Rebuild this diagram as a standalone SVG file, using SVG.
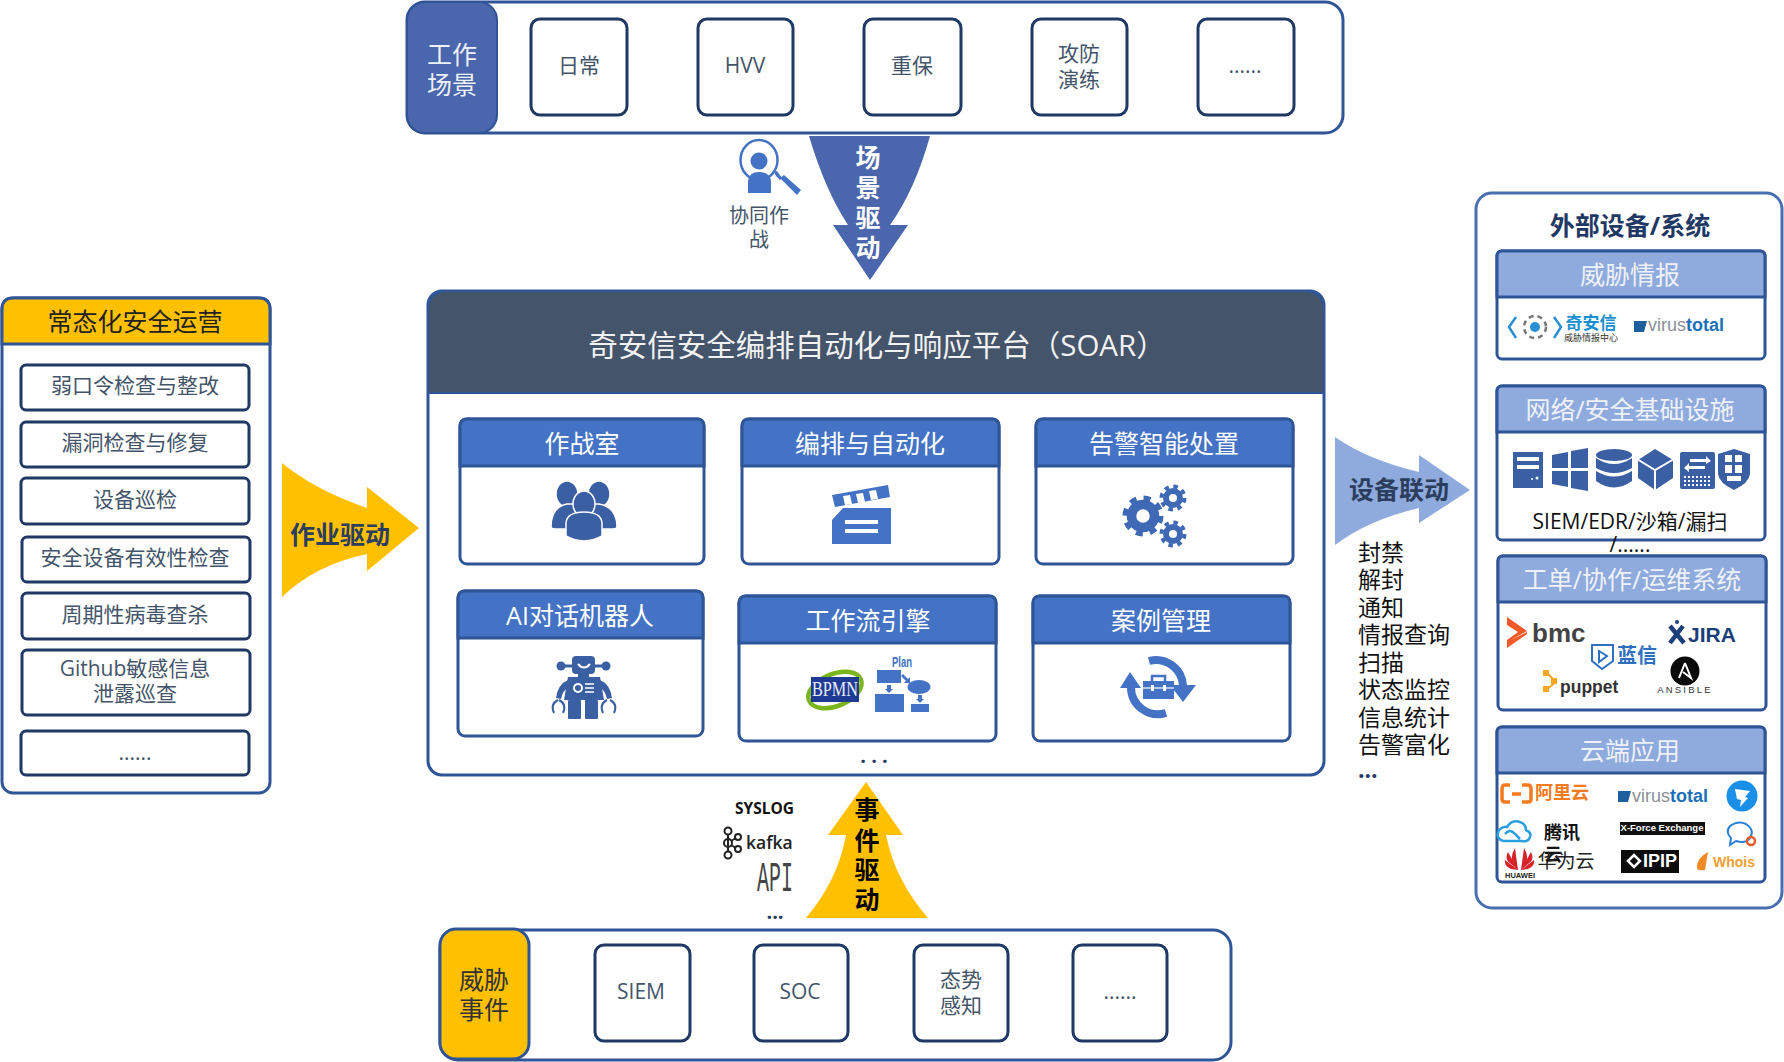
<svg xmlns="http://www.w3.org/2000/svg" width="1784" height="1062" viewBox="0 0 1784 1062">
<style>
text{font-family:"Open Sans","Noto Sans CJK SC",sans-serif;dominant-baseline:central;text-anchor:middle}
text:not(.logo){transform:translateY(1px)}
.panel{fill:#fff;stroke:#2f5597;stroke-width:3}
.cell{fill:#fff;stroke:#1f3864;stroke-width:3}
.cardh{fill:#4472c4;stroke:#2f5597;stroke-width:3}
.exth{fill:#8faadc;stroke:#2f5597;stroke-width:3}
.ic{fill:#4472c4}
.ic2{fill:#3a5fa3}
.w{fill:#fff}
.lbl{fill:#fff;font-size:25px}
.gl{fill:#eef1f8;font-size:25px}
.c{fill:#44546a;font-size:21px}
.dr{font-weight:700;font-size:25px}
.list{fill:#111;font-size:23px;text-anchor:start}
.logo{font-family:"Liberation Sans",sans-serif;dominant-baseline:auto;text-anchor:start;font-weight:700}
.line{fill:none;stroke:#4472c4;stroke-width:8}
</style>

<g id="connectors">
<path id="arrow-scene" d="M809 136H930Q915 190 890 225H908L870 280L833 225H848Q825 190 809 136Z" fill="#4a66ac"/>
<path id="arrow-ops" d="M282 463Q315 490 367 508V487L419 528L367 571V554Q315 565 282 597Z" fill="#ffc000"/>
<path id="arrow-device" d="M1335 437Q1368 460 1419 472V455L1470 490L1419 523V508Q1368 520 1335 545Z" fill="#8faadc"/>
<path id="arrow-event" d="M866 782L903 835H886Q895 880 928 918H806Q838 880 846 835H828Z" fill="#ffc000"/>
<text x="868" y="156" class="dr" fill="#fff">场</text><text x="868" y="186" class="dr" fill="#fff">景</text><text x="868" y="216" class="dr" fill="#fff">驱</text><text x="868" y="246" class="dr" fill="#fff">动</text>
<text x="340" y="533" class="dr" fill="#2c3e5e">作业驱动</text>
<text x="1399" y="488" class="dr" fill="#2c3e5e">设备联动</text>
<text x="867" y="808" class="dr" fill="#000">事</text><text x="867" y="839" class="dr" fill="#000">件</text><text x="867" y="868" class="dr" fill="#000">驱</text><text x="867" y="898" class="dr" fill="#000">动</text>
</g>

<g id="scenes">
<rect class="panel" x="407" y="2" width="936" height="131" rx="18"/>
<rect x="407" y="2" width="90" height="131" rx="18" fill="#4a66ac" stroke="#2f5597" stroke-width="2"/>
<text class="gl" x="452" y="53">工作</text><text class="gl" x="452" y="83">场景</text>
<g id="scene-daily"><rect class="cell" x="531" y="19" width="96" height="96" rx="9"/><text class="c" x="579" y="64">日常</text></g>
<g id="scene-hvv"><rect class="cell" x="698" y="19" width="95" height="96" rx="9"/><text class="c" x="745" y="64">HVV</text></g>
<g id="scene-protect"><rect class="cell" x="864" y="19" width="97" height="96" rx="9"/><text class="c" x="912" y="64">重保</text></g>
<g id="scene-drill"><rect class="cell" x="1032" y="19" width="95" height="96" rx="9"/><text class="c" x="1079" y="52">攻防</text><text class="c" x="1079" y="78">演练</text></g>
<g id="scene-more"><rect class="cell" x="1198" y="19" width="96" height="96" rx="9"/><text class="c" x="1245" y="64">......</text></g>
</g>

<g id="collab">
<ellipse cx="759" cy="160" rx="18.500" ry="20" fill="#fff" stroke="#4472c4" stroke-width="2.500"/>
<circle cx="759" cy="161" r="8.500" class="ic"/>
<path class="ic" d="M748 193V181Q749 172 759 172Q770 172 771 181V193Z"/>
<path class="ic" d="M774 172L777 171L782 178L780 180L776 176Z"/>
<path class="ic" d="M780 178L784 175L801 190L797 195Z"/>
<text x="759" y="214" fill="#44546a" font-size="20">协同作</text><text x="759" y="238" fill="#44546a" font-size="20">战</text>
</g>

<g id="ops">
<rect class="panel" x="2" y="298" width="268" height="495" rx="11"/>
<path d="M2 344V309Q2 298 13 298H259Q270 298 270 309V344Z" fill="#ffc000" stroke="#2f5597" stroke-width="3"/>
<text x="135" y="320" fill="#222" font-size="25">常态化安全运营</text>
<g id="op1"><rect class="cell" x="21" y="365" width="228" height="45" rx="5"/><text class="c" x="135" y="384">弱口令检查与整改</text></g>
<g id="op2"><rect class="cell" x="21" y="422" width="228" height="45" rx="5"/><text class="c" x="135" y="441">漏洞检查与修复</text></g>
<g id="op3"><rect class="cell" x="21" y="478" width="228" height="46" rx="5"/><text class="c" x="135" y="498">设备巡检</text></g>
<g id="op4"><rect class="cell" x="22" y="537" width="228" height="45" rx="5"/><text class="c" x="135" y="556">安全设备有效性检查</text></g>
<g id="op5"><rect class="cell" x="22" y="593" width="228" height="46" rx="5"/><text class="c" x="135" y="613">周期性病毒查杀</text></g>
<g id="op6"><rect class="cell" x="22" y="650" width="228" height="65" rx="5"/><text class="c" x="135" y="667">Github敏感信息</text><text class="c" x="135" y="692">泄露巡查</text></g>
<g id="op7"><rect class="cell" x="21" y="731" width="228" height="44" rx="5"/><text class="c" x="135" y="751">......</text></g>
</g>

<g id="soar">
<rect class="panel" x="428" y="291" width="896" height="484" rx="14"/>
<path d="M428 393V311Q428 291 448 291H1304Q1324 291 1324 311V393Z" fill="#44546a" stroke="#2f5597" stroke-width="2"/>
<text x="877" y="343" fill="#f2f2f2" font-size="29.500">奇安信安全编排自动化与响应平台（SOAR）</text>

<g id="card-warroom">
<rect class="panel" x="460" y="419" width="244" height="145" rx="7"/><path class="cardh" d="M460 466V426Q460 419 467 419H697Q704 419 704 426V466Z"/><text class="lbl" x="582" y="442">作战室</text>
<g class="ic2" stroke="#fff" stroke-width="1.500"><ellipse cx="567" cy="494" rx="11" ry="13"/><ellipse cx="599" cy="494" rx="11" ry="13"/><path d="M551 527Q551 507 567 504H599Q617 507 617 527Q617 529 610 529H558Q551 529 551 527Z"/><ellipse cx="584" cy="504" rx="11" ry="13"/><path d="M566 536V523Q567 512 584 512Q601 512 602 523V536Q584 546 566 536Z"/></g>
</g>

<g id="card-orchestration">
<rect class="panel" x="742" y="419" width="257" height="145" rx="7"/><path class="cardh" d="M742 466V426Q742 419 749 419H992Q999 419 999 426V466Z"/><text class="lbl" x="870" y="442">编排与自动化</text>
<path class="ic" d="M832 495L888 485L890 497L835 507Z"/>
<path class="w" d="M843 496L850 495L852 504L845 505ZM856 494L863 493L865 502L858 503ZM869 491L876 490L878 499L871 500Z"/>
<path class="ic" d="M843 508H891V544H832V520Z"/>
<rect class="w" x="845" y="520" width="33" height="4"/><rect class="w" x="845" y="529" width="33" height="4"/>
</g>

<g id="card-alert">
<rect class="panel" x="1036" y="419" width="257" height="145" rx="7"/><path class="cardh" d="M1036 466V426Q1036 419 1043 419H1286Q1293 419 1293 426V466Z"/><text class="lbl" x="1164" y="442">告警智能处置</text>
<g fill="none" stroke="#3f68b5"><circle cx="1143" cy="516" r="11.500" stroke-width="9.500"/><circle cx="1143" cy="516" r="18" stroke-width="5" stroke-dasharray="7 7.140"/><circle cx="1173" cy="498" r="7" stroke-width="6"/><circle cx="1173" cy="498" r="11.500" stroke-width="4" stroke-dasharray="4.500 4.530"/><circle cx="1173" cy="534" r="7" stroke-width="6"/><circle cx="1173" cy="534" r="11.500" stroke-width="4" stroke-dasharray="4.500 4.530"/></g>
</g>

<g id="card-chatbot">
<rect class="panel" x="458" y="591" width="245" height="145" rx="7"/><path class="cardh" d="M458 638V598Q458 591 465 591H696Q703 591 703 598V638Z"/><text class="lbl" x="580" y="614">AI对话机器人</text>
<g class="ic2"><circle cx="561" cy="666" r="4.500"/><circle cx="606" cy="666" r="4.500"/><rect x="561" y="664.500" width="45" height="3"/><rect x="572" y="656" width="23" height="18" rx="4"/><rect x="578" y="674" width="11" height="4"/><path d="M568 677H600L604 700H564Z"/><rect x="568" y="700" width="13" height="19" rx="1"/><rect x="585" y="700" width="13" height="19" rx="1"/><path d="M568 680Q558 684 556 698L561 699Q563 690 568 688ZM600 680Q610 684 612 698L607 699Q605 690 600 688Z"/></g>
<g fill="none" stroke="#3a5fa3" stroke-width="2"><path d="M558 700Q550 704 554 713M559 700Q567 704 563 713M607 700Q599 704 603 713M610 700Q618 704 614 713"/></g>
<path d="M578 664Q584 671 590 664" fill="none" stroke="#fff" stroke-width="2"/>
<circle cx="578" cy="688" r="4" fill="none" stroke="#fff" stroke-width="2"/><path d="M585 684H594M585 688H594M585 692H594" stroke="#fff" stroke-width="1.500"/>
</g>

<g id="card-workflow">
<rect class="panel" x="739" y="596" width="257" height="145" rx="7"/><path class="cardh" d="M739 643V603Q739 596 746 596H989Q996 596 996 603V643Z"/><text class="lbl" x="868" y="619">工作流引擎</text>
<ellipse cx="835" cy="690" rx="28" ry="16" transform="rotate(-22 835 690)" fill="none" stroke="#7ab51d" stroke-width="4.500"/>
<rect x="811" y="677" width="48" height="25" fill="#1f3a93"/>
<text x="835" y="688" fill="#e8ecf8" font-size="20" style="font-family:'Liberation Serif',serif" textLength="46" lengthAdjust="spacingAndGlyphs">BPMN</text>
<text x="902" y="661" fill="#4472c4" font-size="14" font-weight="700" style="font-family:'Liberation Sans',sans-serif" textLength="20" lengthAdjust="spacingAndGlyphs">Plan</text>
<g class="ic"><rect x="877" y="670" width="24" height="13"/><ellipse cx="919" cy="687" rx="11.500" ry="7"/><rect x="875" y="694" width="29" height="18"/><rect x="911" y="704" width="18" height="8"/><path d="M887 685H891V689H893L889 693L885 689H887ZM918 695H922V699H924L920 703L916 699H918ZM903 674L908 679L910 677V683H904L906 681L901 676Z"/></g>
</g>

<g id="card-case">
<rect class="panel" x="1033" y="596" width="257" height="145" rx="7"/><path class="cardh" d="M1033 643V603Q1033 596 1040 596H1283Q1290 596 1290 603V643Z"/><text class="lbl" x="1161" y="619">案例管理</text>
<path class="line" d="M1149 661A27 27 0 0 1 1183 686"/><path class="line" d="M1131 687A27 27 0 0 0 1166 713"/>
<path class="ic" d="M1120 688L1130 672L1141 688ZM1170 685H1196L1183 702Z"/>
<rect class="ic" x="1143" y="681" width="31" height="18"/><path d="M1152 681V676H1165V681" fill="none" stroke="#4472c4" stroke-width="2.500"/>
<path d="M1143 688H1174" stroke="#fff" stroke-width="1.200"/><rect class="w" x="1151" y="685" width="3" height="6"/><rect class="w" x="1163" y="685" width="3" height="6"/>
</g>
<text id="soar-more" x="874" y="754" fill="#1f3864" font-size="20" font-weight="700">. . .</text>
</g>

<g id="inputs">
<text x="794" y="807" fill="#111" font-size="15.500" font-weight="700" style="text-anchor:end">SYSLOG</text>
<g fill="none" stroke="#222" stroke-width="2"><circle cx="728" cy="831" r="3.500"/><circle cx="728" cy="843" r="4"/><circle cx="728" cy="855" r="3.500"/><circle cx="738" cy="837" r="3"/><circle cx="738" cy="849" r="3"/><path d="M728 834V851M731 841L736 838M731 845L736 848"/></g>
<text x="746" y="841" fill="#222" font-size="17.500" font-weight="600" style="text-anchor:start">kafka</text>
<text x="775" y="879" fill="#444" font-size="42" style="font-family:'Liberation Mono',monospace" textLength="36" lengthAdjust="spacingAndGlyphs">API</text>
<text x="775" y="910" fill="#1f3864" font-size="20" font-weight="700">...</text>
</g>

<g id="threats">
<rect class="panel" x="440" y="930" width="791" height="130" rx="18"/>
<rect x="440" y="929" width="89" height="130" rx="16" fill="#ffc000" stroke="#2f5597" stroke-width="3"/>
<text x="484" y="978" fill="#333" font-size="25">威胁</text><text x="484" y="1008" fill="#333" font-size="25">事件</text>
<g id="threat-siem"><rect class="cell" x="595" y="945" width="95" height="96" rx="9"/><text class="c" x="641" y="990">SIEM</text></g>
<g id="threat-soc"><rect class="cell" x="754" y="945" width="94" height="96" rx="9"/><text class="c" x="800" y="990">SOC</text></g>
<g id="threat-sa"><rect class="cell" x="914" y="945" width="94" height="96" rx="9"/><text class="c" x="961" y="978">态势</text><text class="c" x="961" y="1004">感知</text></g>
<g id="threat-more"><rect class="cell" x="1073" y="945" width="94" height="96" rx="9"/><text class="c" x="1120" y="990">......</text></g>
</g>

<g id="actions">
<text class="list" x="1358" y="551">封禁</text><text class="list" x="1358" y="578">解封</text><text class="list" x="1358" y="606">通知</text><text class="list" x="1358" y="633">情报查询</text><text class="list" x="1358" y="661">扫描</text><text class="list" x="1358" y="688">状态监控</text><text class="list" x="1358" y="716">信息统计</text><text class="list" x="1358" y="743">告警富化</text><text class="list" x="1358" y="768" font-weight="700" style="fill:#1f3864">...</text>
</g>

<g id="external">
<rect x="1476" y="193" width="306" height="715" rx="16" fill="#fff" stroke="#4a6fb0" stroke-width="3"/>
<text x="1630" y="224" fill="#1f3864" font-size="25" font-weight="700">外部设备/系统</text>

<g id="ext-intel">
<rect class="panel" x="1497" y="251" width="268" height="108" rx="5"/><path class="exth" d="M1497 297V256Q1497 251 1502 251H1760Q1765 251 1765 256V297Z"/><text class="gl" x="1630" y="273">威胁情报</text>
<path d="M1516 317L1509 327L1516 338M1554 317L1561 327L1554 338" fill="none" stroke="#2a8fd6" stroke-width="2.500"/>
<circle cx="1535" cy="327" r="11" fill="none" stroke="#777" stroke-width="2.500" stroke-dasharray="5 4"/><circle cx="1535" cy="327" r="5" fill="#2a8fd6"/>
<text x="1591" y="321" fill="#1a8fd0" font-size="17" font-weight="700">奇安信</text>
<text x="1591" y="336" fill="#333" font-size="9">威胁情报中心</text>
<path d="M1634 321H1647L1644 332H1634Z" fill="#1f5f9e"/>
<text class="logo" x="1648" y="331" font-size="18" fill="#8a8f96" style="font-weight:400">virus<tspan fill="#1d6fb8" font-weight="700">total</tspan></text>
</g>

<g id="ext-infra">
<rect class="panel" x="1497" y="386" width="268" height="154" rx="5"/><path class="exth" d="M1497 432V391Q1497 386 1502 386H1760Q1765 386 1765 391V432Z"/><text class="gl" x="1630" y="408">网络/安全基础设施</text>
<g class="ic2">
<rect x="1513" y="452" width="30" height="36"/>
<path d="M1552 455L1568 452V468H1552ZM1571 451L1588 448V468H1571ZM1552 471H1568V487L1552 484ZM1571 471H1588V491L1571 488Z"/>
<ellipse cx="1614" cy="455" rx="18" ry="6"/><path d="M1596 458Q1614 470 1632 458V468Q1614 478 1596 468ZM1596 471Q1614 482 1632 471V481Q1614 494 1596 481Z"/>
<path d="M1655 449L1673 460V478L1655 490L1638 478V460Z"/>
<rect x="1680" y="452" width="35" height="37" rx="2"/>
<path d="M1734 449L1750 454V474Q1749 483 1734 490Q1719 483 1718 474V454Z"/>
</g>
<path d="M1637 459L1655 470L1674 459M1655 470V491" fill="none" stroke="#fff" stroke-width="2"/>
<g class="w"><rect x="1517" y="457" width="22" height="4"/><rect x="1517" y="465" width="22" height="4"/><circle cx="1537" cy="478" r="1.500"/><circle cx="1532" cy="479" r="1"/>
<path d="M1690 459H1706V456L1711 461L1706 464V462H1690ZM1705 466H1689V463L1684 468L1689 472V469H1705Z"/>
<rect x="1725" y="455" width="7" height="7"/><rect x="1735" y="455" width="7" height="7"/><rect x="1725" y="465" width="7" height="8"/><rect x="1735" y="465" width="7" height="8"/><rect x="1727" y="476" width="14" height="5"/></g>
<path d="M1684 477H1712M1684 481H1712M1684 485H1712" stroke="#fff" stroke-width="2" stroke-dasharray="2 2"/>
<text x="1630" y="520" fill="#111" font-size="21">SIEM/EDR/沙箱/漏扫</text>
</g>

<g id="ext-ticket">
<rect class="panel" x="1498" y="556" width="268" height="154" rx="5"/><path class="exth" d="M1498 602V561Q1498 556 1503 556H1761Q1766 556 1766 561V602Z"/><text class="gl" x="1632" y="578">工单/协作/运维系统</text>
<path d="M1507 617L1527 631L1511 640L1527 632V634L1507 648V640L1518 632L1507 625Z" fill="#ef5a28"/>
<text class="logo" x="1532" y="642" font-size="26" fill="#444">bmc</text>
<path d="M1592 645H1613V661L1602 669L1592 661Z" fill="none" stroke="#2f6fc0" stroke-width="2"/><path d="M1599 651L1607 656L1599 662Z" fill="none" stroke="#2f6fc0" stroke-width="2"/>
<text x="1637" y="654" fill="#2f6fc0" font-size="20" font-weight="700">蓝信</text>
<path d="M1670 626L1684 643M1683 626L1670 643" stroke="#1b3f7a" stroke-width="4.500"/>
<circle cx="1677" cy="622" r="2" fill="#1b3f7a"/>
<text class="logo" x="1688" y="642" font-size="21" fill="#1b3f7a">JIRA</text>
<path d="M1546 672L1556 682L1546 690" fill="none" stroke="#f5a623" stroke-width="2"/><rect x="1543" y="670" width="6" height="6" fill="#f5a623"/><rect x="1551" y="678" width="6" height="6" fill="#f5a623"/><rect x="1543" y="686" width="6" height="6" fill="#f5a623"/>
<text class="logo" x="1560" y="693" font-size="17.500" fill="#333">puppet</text>
<circle cx="1685" cy="671" r="14.500" fill="#0a0a0a"/><path d="M1685 663L1691 678L1683 672M1685 663L1679 678" fill="none" stroke="#fff" stroke-width="2"/>
<text x="1685" y="688" fill="#333" font-size="9.500" letter-spacing="2.200" style="font-family:'Liberation Sans',sans-serif">ANSIBLE</text>
</g>

<text id="infra-more" x="1630" y="543" fill="#111" font-size="21">/......</text>

<g id="ext-cloud">
<rect class="panel" x="1497" y="727" width="268" height="155" rx="5"/><path class="exth" d="M1497 773V732Q1497 727 1502 727H1760Q1765 727 1765 732V773Z"/><text class="gl" x="1630" y="749">云端应用</text>
<path d="M1510 785H1505Q1502 785 1502 789V799Q1502 802 1505 802H1510M1522 785H1528Q1531 785 1531 789V799Q1531 802 1528 802H1522M1512 794H1521" fill="none" stroke="#f47a20" stroke-width="3.500"/>
<text x="1562" y="791" fill="#f47a20" font-size="18" font-weight="700">阿里云</text>
<path d="M1618 791H1631L1628 802H1618Z" fill="#1f5f9e"/>
<text class="logo" x="1632" y="802" font-size="18" fill="#8a8f96" style="font-weight:400">virus<tspan fill="#1d6fb8" font-weight="700">total</tspan></text>
<circle cx="1742" cy="796" r="15.500" fill="#1a8fe8"/><path d="M1735 789L1750 791L1745 797L1748 798L1740 807L1741 800L1737 799Z" fill="#fff"/>
<path d="M1503 841Q1495 838 1499 830Q1503 826 1507 827Q1512 819 1520 822Q1526 824 1526 830Q1533 833 1529 839Q1527 842 1522 841H1503M1505 834Q1510 828 1515 834L1520 839" fill="none" stroke="#2a9fe0" stroke-width="2.500"/>
<text x="1562" y="831" fill="#111" font-size="18" font-weight="700">腾讯</text>
<text x="1553" y="853" fill="#111" font-size="18" font-weight="700">云</text>
<text x="1566" y="860" fill="#222" font-size="19">华为云</text>
<rect x="1620" y="822" width="85" height="13" fill="#111"/>
<text x="1662" y="826.500" fill="#fff" font-size="9.500" font-weight="700" style="font-family:'Liberation Sans',sans-serif">X-Force Exchange</text>
<path d="M1730 826Q1738 820 1746 824Q1755 830 1750 838Q1746 844 1736 841L1730 845L1731 838Q1725 832 1730 826Z" fill="none" stroke="#2a7fd6" stroke-width="2"/>
<circle cx="1751" cy="841" r="4" fill="none" stroke="#e85a2c" stroke-width="2.500"/>
<g fill="#d8232a"><path d="M1518 870L1505 860Q1504 866 1511 869ZM1518 870L1508 852Q1504 860 1511 864ZM1518 870L1515 848Q1510 856 1513 862ZM1521 870L1524 848Q1529 856 1526 862ZM1521 870L1531 852Q1535 860 1528 864ZM1521 870L1534 860Q1535 866 1528 869Z"/></g>
<text x="1520" y="874" fill="#222" font-size="7.500" font-weight="700" style="font-family:'Liberation Sans',sans-serif">HUAWEI</text>
<rect x="1621" y="850" width="58" height="23" fill="#0c0c0c"/>
<path d="M1628 861L1634 855L1640 861L1634 867Z" fill="none" stroke="#fff" stroke-width="2.500"/>
<text x="1660" y="859.500" fill="#fff" font-size="18" font-weight="700" style="font-family:'Liberation Sans',sans-serif">IPIP</text>
<path d="M1697 869Q1696 858 1708 852L1705 870Q1700 871 1697 869Z" fill="#f08a24"/>
<text class="logo" x="1713" y="867" font-size="14" fill="#f0a030">Whois</text>
</g>
</g>
</svg>
